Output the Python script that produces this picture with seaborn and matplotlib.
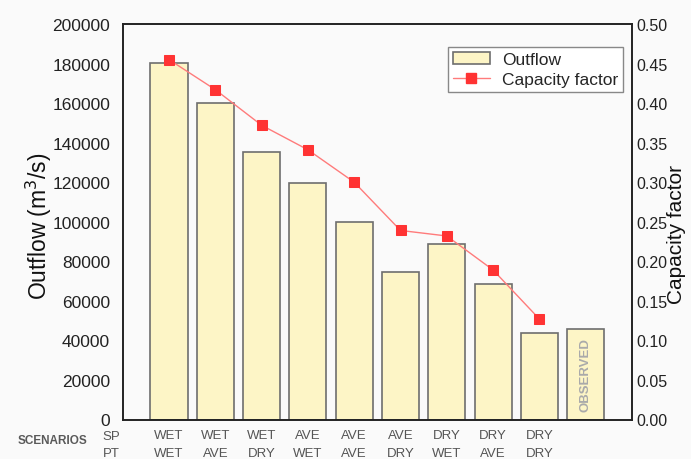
import numpy as np
import pandas as pd
import matplotlib
matplotlib.use("Agg")
import matplotlib.pyplot as plt
import seaborn as sns
from matplotlib.patches import Patch
from matplotlib.lines import Line2D

sns.set_theme(style="white")
plt.rcParams['font.family'] = ['Liberation Sans', 'DejaVu Sans']

# ---- data ----
sp_labels = ["WET", "WET", "WET", "AVE", "AVE", "AVE", "DRY", "DRY", "DRY", ""]
pt_labels = ["WET", "AVE", "DRY", "WET", "AVE", "DRY", "WET", "AVE", "DRY", ""]
scenarios = ["WET-WET", "WET-AVE", "WET-DRY", "AVE-WET", "AVE-AVE", "AVE-DRY",
             "DRY-WET", "DRY-AVE", "DRY-DRY", "OBSERVED"]
outflow = [180300, 160000, 135300, 119800, 99700, 74700, 88900, 68500, 43900, 45900]
capacity = [0.455, 0.417, 0.372, 0.341, 0.300, 0.239, 0.232, 0.189, 0.127]

W, H = 691, 460
fig = plt.figure(figsize=(W / 100, H / 100), dpi=100, facecolor="#fafafa")
ax = fig.add_axes([122.7 / W, 1 - 420.5 / H, (632 - 122.7) / W, (420.5 - 25) / H])
ax.set_facecolor("#fafafa")

df = pd.DataFrame({"scenario": scenarios, "outflow": outflow})
sns.barplot(data=df, x="scenario", y="outflow", order=scenarios, ax=ax,
            color="#fdf5c6", saturation=1, edgecolor="#6e6e6e", linewidth=1.2,
            width=0.80)
ax.set_xlim(-1.0, 10.0)
ax.set_ylim(0, 200000)
ax.set_yticks(np.arange(0, 200001, 20000))
ax.set_yticklabels([str(v) for v in range(0, 200001, 20000)], fontsize=12.5, color="#222222")
ax.set_xticks(range(len(scenarios)))
ax.set_xticklabels([f"{a}\n{b}" for a, b in zip(sp_labels, pt_labels)],
                   fontsize=9.5, color="#555555", linespacing=1.62)
ax.tick_params(axis="x", length=0, pad=7)
ax.tick_params(axis="y", length=0, pad=9)
ax.set_xlabel("")
ax.set_ylabel("Outflow (m$^3$/s)", fontsize=16.5, color="#111111")
ax.yaxis.set_label_coords(-0.134, 0.49)
for s in ax.spines.values():
    s.set_color("#222222")
    s.set_linewidth(1.2)
    s.set_visible(True)

# observed label inside bar
ax.text(9, 23000, "OBSERVED", rotation=90, ha="center", va="center",
        fontsize=9.5, fontweight="bold", color="#aaaaaa")

ax2 = ax.twinx()
cf = pd.DataFrame({"pos": np.arange(len(capacity)), "cf": capacity})
sns.lineplot(data=cf, x="pos", y="cf", ax=ax2, color="#ff7b7b", linewidth=1.0,
             marker="s", markersize=7, markerfacecolor="#ff3333",
             markeredgecolor="#ff3333")
ax2.set_ylim(0, 0.5)
ax2.set_yticks(np.arange(0, 0.501, 0.05))
ax2.set_yticklabels([f"{v:.2f}" for v in np.arange(0, 0.501, 0.05)], fontsize=11.5, color="#222222")
ax2.tick_params(axis="y", length=0, pad=3)
ax2.set_xlim(-1.0, 10.0)
ax2.set_ylabel("Capacity factor", fontsize=15, color="#111111")
ax2.yaxis.set_label_coords((667 - 122.7) / 509, 0.47)
ax2.set_xlabel("")
for s in ax2.spines.values():
    s.set_color("#222222")
    s.set_linewidth(1.2)

handles = [Patch(facecolor="#fdf5c6", edgecolor="#6e6e6e", linewidth=1.2),
           Line2D([0], [0], color="#ff7b7b", lw=1.0, marker="s", markersize=7,
                  markerfacecolor="#ff3333", markeredgecolor="#ff3333")]
leg = ax2.legend(handles, ["Outflow", "Capacity factor"], loc="upper right",
                 bbox_to_anchor=((623 - 122.7) / 509, (420.5 - 48) / 395.5),
                 fontsize=12.5, frameon=True, fancybox=False, framealpha=1,
                 edgecolor="#888888", borderpad=0.3, labelspacing=0.25,
                 handlelength=2.1, handletextpad=0.7, borderaxespad=0)
leg.get_frame().set_linewidth(1.0)

# bottom-left row labels
fig.text(52 / W, 1 - 441 / H, "SCENARIOS", ha="center", va="center",
         fontsize=8.5, fontweight="bold", color="#5a5a5a")
fig.text(111 / W, 1 - 437 / H, "SP", ha="center", va="center",
         fontsize=9.5, color="#555555")
fig.text(111 / W, 1 - 454 / H, "PT", ha="center", va="center",
         fontsize=9.5, color="#555555")

fig.savefig("out.png", dpi=100, facecolor=fig.get_facecolor())
